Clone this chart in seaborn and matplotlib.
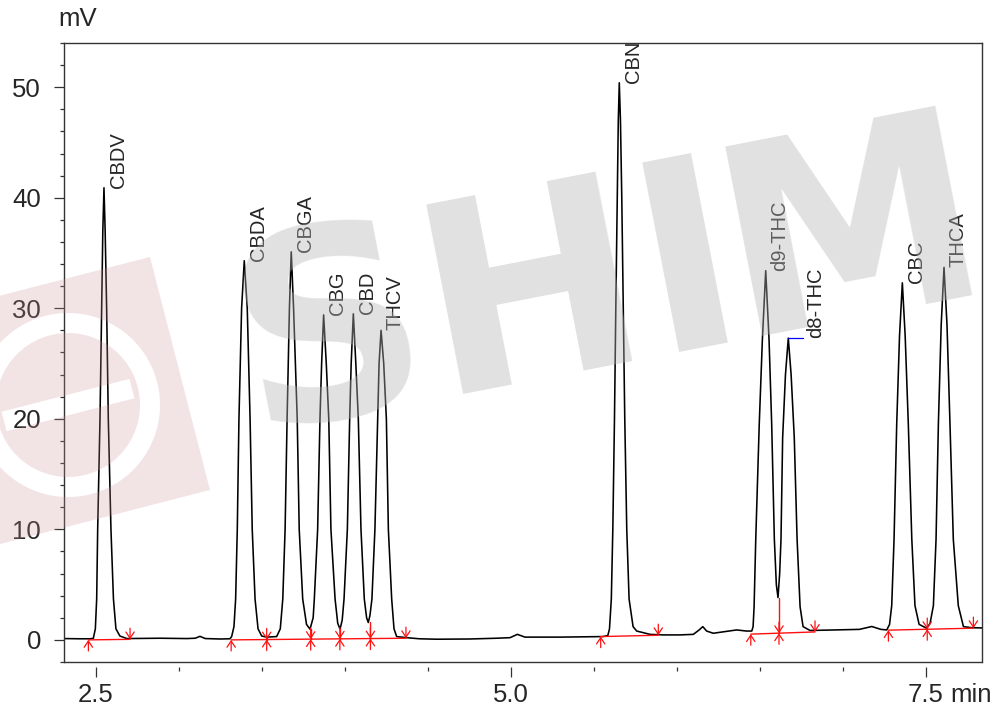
import numpy as np
import pandas as pd
import matplotlib
matplotlib.use('Agg')
import matplotlib.pyplot as plt
from matplotlib.ticker import MultipleLocator
from matplotlib.patches import PathPatch
from matplotlib.path import Path
import seaborn as sns

# Chromatogram trace (min, mV)
time = [2.309, 2.40, 2.470, 2.486, 2.498, 2.506, 2.512, 2.526, 2.536, 2.543, 2.550,
        2.557, 2.566, 2.576, 2.592, 2.607, 2.622, 2.646, 2.688, 2.887, 3.05, 3.10,
        3.128, 3.16, 3.25, 3.309,
        3.319, 3.333, 3.343, 3.353, 3.363, 3.379, 3.395, 3.413, 3.430, 3.443, 3.460,
        3.478, 3.500, 3.530, 3.590,
        3.612, 3.627, 3.641, 3.653, 3.667, 3.678, 3.692, 3.714, 3.726, 3.747, 3.770, 3.791,
        3.810, 3.817, 3.837, 3.851, 3.861, 3.873, 3.889, 3.904, 3.917, 3.942, 3.958, 3.972,
        3.985, 3.996, 4.016, 4.030, 4.039, 4.052, 4.067, 4.082, 4.098, 4.118, 4.132, 4.142,
        4.152, 4.164, 4.182, 4.199, 4.207, 4.219, 4.235, 4.251, 4.263, 4.283, 4.297, 4.313,
        4.373, 4.45, 4.554, 4.75, 4.916, 4.996, 5.040, 5.086, 5.297, 5.450, 5.556, 5.585,
        5.595, 5.606, 5.615, 5.625, 5.633, 5.642, 5.648, 5.654, 5.661, 5.669, 5.678, 5.687,
        5.699, 5.713, 5.737, 5.759, 5.839, 5.919, 6.020, 6.100, 6.135, 6.157, 6.180, 6.220,
        6.290, 6.361, 6.420, 6.452,
        6.460, 6.466, 6.476, 6.497, 6.516, 6.536, 6.556, 6.572, 6.588, 6.600, 6.610,
        6.620, 6.628, 6.638, 6.655, 6.672, 6.689, 6.708, 6.725, 6.743, 6.761, 6.803,
        6.943, 7.10, 7.175, 7.230, 7.265,
        7.282, 7.295, 7.309, 7.325, 7.342, 7.359, 7.376, 7.395, 7.416, 7.435, 7.460, 7.506,
        7.526, 7.546, 7.562, 7.576, 7.593, 7.610, 7.628, 7.646, 7.666, 7.696, 7.727, 7.777,
        7.851]
signal = [0.12, 0.10, 0.10, 0.15, 1.0, 3.7, 10, 20, 30, 37, 40.9,
          37, 30, 20, 10, 3.7, 1.0, 0.35, 0.12, 0.15, 0.12, 0.15,
          0.32, 0.12, 0.08, 0.10,
          0.3, 1.2, 3.7, 10, 20, 30, 34.3, 30, 20, 10, 3.7,
          1.0, 0.35, 0.25, 0.3,
          1.0, 3.7, 10, 20, 30, 35.1, 30, 20, 10, 3.7, 1.4, 0.97,
          2.0, 3.7, 10, 20, 25, 29.4, 25, 20, 10, 3.7, 1.5, 0.97,
          1.8, 3.7, 10, 20, 25, 29.5, 25, 20, 10, 3.7, 2.0, 1.57,
          2.2, 3.7, 10, 20, 25, 28.0, 25, 20, 10, 3.7, 1.0, 0.3,
          0.2, 0.1, 0.06, 0.08, 0.15, 0.2, 0.5, 0.25, 0.25, 0.28, 0.3, 0.4,
          1.0, 3.7, 10, 20, 30, 40, 47, 50.4, 47, 40, 30, 20,
          10, 3.7, 1.2, 0.8, 0.5, 0.45, 0.45, 0.5, 0.9, 1.2, 0.8, 0.6,
          0.75, 0.9, 0.8, 0.8,
          1.2, 3.0, 9.1, 19.5, 27.2, 33.4, 27.2, 19.5, 9.1, 5.0, 3.83,
          6.0, 9.1, 18.3, 24, 27.3, 24, 18.3, 9.1, 3.0, 1.2, 0.85,
          0.9, 0.95, 1.21, 0.95, 0.9,
          1.4, 3.1, 9.1, 19.5, 27.5, 32.3, 27.5, 19.5, 9.1, 3.1, 1.4, 1.05,
          1.5, 3.1, 9.1, 19.5, 28.5, 33.7, 28.5, 19.5, 9.1, 3.1, 1.2, 1.1,
          1.08]

# Peak table
peak_names = ['CBDV', 'CBDA', 'CBGA', 'CBG', 'CBD', 'THCV', 'CBN',
              'd9-THC', 'd8-THC', 'CBC', 'THCA']
peak_rt = [2.550, 3.395, 3.678, 3.873, 4.052, 4.219, 5.654, 6.536, 6.672, 7.359, 7.610]
peak_height = [40.9, 34.3, 35.1, 29.4, 29.5, 28.0, 50.4, 33.4, 27.3, 32.3, 33.7]

# Integration baselines (start / end of each group)
base_t0 = [2.456, 3.316, 5.542, 6.446, 7.275]
base_v0 = [0.0, 0.0, 0.30, 0.52, 0.88]
base_t1 = [2.707, 4.369, 5.889, 6.833, 7.787]
base_v1 = [0.05, 0.15, 0.42, 0.72, 1.06]

# Peak split points (drop lines)
split_t = [3.530, 3.795, 3.971, 4.155, 6.616, 7.509]
split_base = [0.03, 0.07, 0.10, 0.12, 0.60, 0.97]
split_top = [0.25, 0.97, 0.97, 1.60, 3.83, 1.05]

sns.set_style('ticks')
plt.rcParams['font.family'] = ['Liberation Sans', 'DejaVu Sans']

fig = plt.figure(figsize=(9.98, 7.09), dpi=100)
ax = fig.add_axes([0.0641, 0.0663, 0.9199, 0.8731])

df = pd.DataFrame({'time': time, 'mV': signal})
sns.lineplot(data=df, x='time', y='mV', color='black', linewidth=1.15,
             estimator=None, sort=False, ax=ax)

red = '#ff1010'


def arrow(t, v, up):
    tail = v - 1.0 if up else v + 1.0
    ax.annotate('', xy=(t, v), xytext=(t, tail),
                arrowprops=dict(arrowstyle='->,head_length=0.45,head_width=0.3',
                                color=red, lw=0.9, shrinkA=0, shrinkB=0,
                                mutation_scale=10))


for t0, v0, t1, v1 in zip(base_t0, base_v0, base_t1, base_v1):
    ax.plot([t0, t1], [v0, v1], color=red, lw=1.0)
    arrow(t0, v0, True)
    arrow(t1, v1, False)

for t, b, top in zip(split_t, split_base, split_top):
    ax.plot([t, t], [b, top], color=red, lw=1.0)
    arrow(t, b, True)
    arrow(t, b, False)

# peak labels
for name, rt, h in zip(peak_names, peak_rt, peak_height):
    dx = 3.5
    if name == 'd8-THC':
        dx = 12.5
        ax.plot([rt, rt + 0.09], [h, h], color='blue', lw=0.9)
    ax.annotate(name, xy=(rt, h), xytext=(dx, 0), textcoords='offset points',
                rotation=90, ha='left', va='bottom', fontsize=14.5)

ax.set_xlim(2.309, 7.839)
ax.set_ylim(-2.0, 54.0)
ax.set_xticks([2.5, 5.0, 7.5])
ax.set_xticklabels(['2.5', '5.0', '7.5'])
ax.xaxis.set_minor_locator(MultipleLocator(0.5))
ax.yaxis.set_major_locator(MultipleLocator(10))
ax.yaxis.set_minor_locator(MultipleLocator(2))
ax.set_xlabel('')
ax.set_ylabel('')

edge = '#333333'
for s in ax.spines.values():
    s.set_color(edge)
    s.set_linewidth(1.0)
ax.spines['bottom'].set_position(('outward', 3.4))
ax.spines['bottom'].set_visible(False)
ax.plot([0, 1], [0, 0], transform=ax.transAxes, color=edge, lw=1.0, clip_on=False)

ax.tick_params(which='both', direction='out', color=edge, width=0.9, labelsize=18.5)
ax.tick_params(which='major', length=7.5)
ax.tick_params(which='minor', length=3)
ax.tick_params(axis='y', pad=9)
ax.tick_params(axis='x', pad=4.5)

fig.text(58 / 998, 1 - 19 / 709, 'mV', fontsize=18.5, ha='left', va='center')
ax.annotate('min', xy=(7.5, 0), xycoords=('data', 'axes fraction'),
            xytext=(18, -15.4), textcoords='offset points',
            ha='left', va='top', fontsize=18.5)


# faint watermark on top of everything
def ring(cx, cy, r, ccw):
    a = np.linspace(0, 2 * np.pi, 120)
    if not ccw:
        a = a[::-1]
    return np.column_stack([cx + r * np.cos(a), cy + r * np.sin(a)])


def px(x, y):
    return np.array([x / 100.0, (709 - y) / 100.0])


sq = np.array([px(150, 257), px(-83, 317), px(-23, 550), px(210, 490)])  # ccw
cx, cy = px(68, 405)
ang = np.deg2rad(14.4)
u = np.array([np.cos(ang), np.sin(ang)])
w = np.array([-np.sin(ang), np.cos(ang)])
L, W = 0.66, 0.10
c0 = np.array([cx, cy])
stripe = np.array([c0 - L * u - W * w, c0 - L * u + W * w,
                   c0 + L * u + W * w, c0 + L * u - W * w])  # cw
parts = [sq, ring(cx, cy, 0.92, False), ring(cx, cy, 0.72, True), stripe]
verts, codes = [], []
for p in parts:
    verts.extend(p)
    verts.append(p[0])
    codes.extend([Path.MOVETO] + [Path.LINETO] * (len(p) - 1) + [Path.CLOSEPOLY])
logo = PathPatch(Path(np.array(verts), codes), transform=fig.dpi_scale_trans,
                 facecolor=(0.80, 0.56, 0.59), edgecolor='none', alpha=0.24, zorder=5)
fig.add_artist(logo)

# watermark letters, spaced along a tilted baseline
wm_angle = 11
for ch, d in zip('SHIMA', [0, 190, 410, 495, 775]):
    x0 = 252 + d * np.cos(np.deg2rad(wm_angle))
    y0 = 430 - d * np.sin(np.deg2rad(wm_angle))
    fig.text(x0 / 998, 1 - y0 / 709, ch, fontsize=190, fontweight='bold',
             family='DejaVu Sans', color='#b4b4b4', alpha=0.4,
             rotation=wm_angle, rotation_mode='anchor',
             ha='left', va='baseline', zorder=5)

fig.savefig('out.png', dpi=100)
